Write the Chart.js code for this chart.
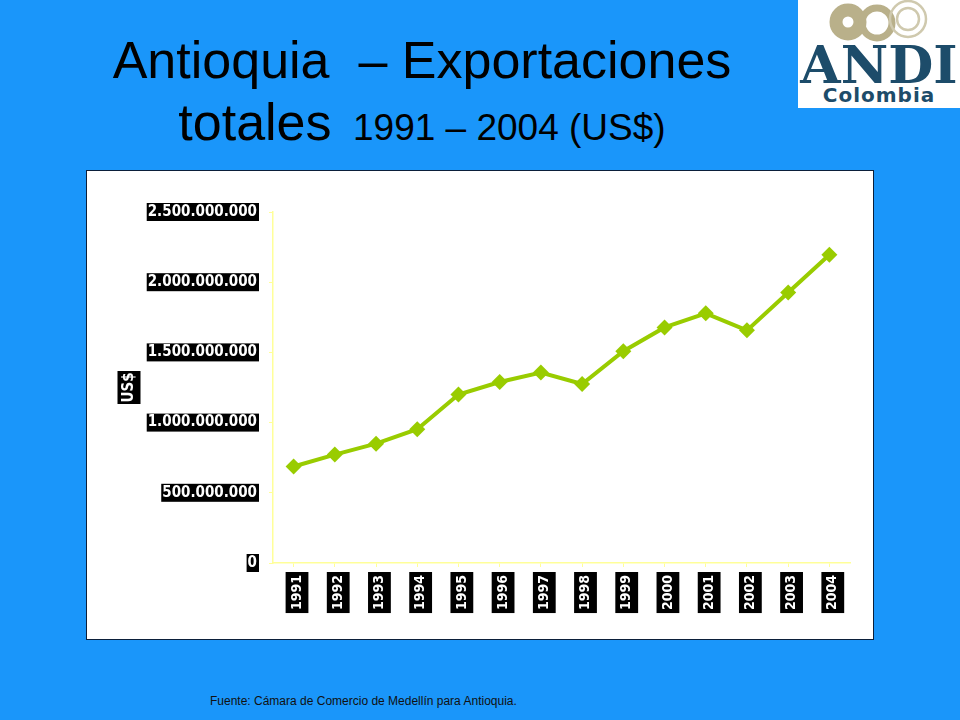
<!DOCTYPE html>
<html>
<head>
<meta charset="utf-8">
<script src="https://cdn.jsdelivr.net/npm/chart.js@4.4.1/dist/chart.umd.min.js"></script>
<style>
  html, body { margin: 0; padding: 0; }
  body {
    width: 960px; height: 720px; position: relative; overflow: hidden;
    background: #1a96fa; font-family: "Liberation Sans", Arial, sans-serif;
  }
  .title {
    position: absolute; left: 0; width: 844px; text-align: center;
    color: #000; font-size: 52px; line-height: 1; white-space: pre;
  }
  .title small { font-size: 37px; margin-left: 7px; }
  #t1 { top: 34px; }
  #t2 { top: 96px; }
  #logo {
    position: absolute; left: 798px; top: 0; width: 162px; height: 108px; background: #fff;
  }
  #logo .andi {
    position: absolute; left: 0; width: 162px; top: 39px; text-align: center; line-height: 1;
    font-family: "DejaVu Serif", serif; font-weight: bold; font-size: 52px;
    color: #1d4c6a;
  }
  #logo .col {
    position: absolute; left: 0; width: 162px; top: 85px; text-align: center; line-height: 1;
    font-family: "DejaVu Sans", sans-serif; font-weight: bold; font-size: 20px;
    color: #1d4c6a; letter-spacing: 1px;
  }
  #box {
    position: absolute; left: 86px; top: 170px; width: 786px; height: 468px;
    background: #fff; border: 1px solid #0b1f3a;
  }
  #chart { display: block; }
  #src {
    position: absolute; left: 210px; top: 694px; font-size: 12px; color: #111;
  }
</style>
</head>
<body>
<div class="title" id="t1">Antioquia  – Exportaciones</div>
<div class="title" id="t2">totales <small>1991 – 2004 (US$)</small></div>

<div id="logo">
  <svg width="162" height="48" style="position:absolute;left:0;top:0">
    <circle cx="50" cy="22" r="12" fill="none" stroke="#b9b08a" stroke-width="13"/>
    <circle cx="79" cy="23" r="15" fill="none" stroke="#b9b08a" stroke-width="7"/>
    <circle cx="110" cy="19" r="18" fill="none" stroke="#cfc9ae" stroke-width="2.5"/>
    <circle cx="110" cy="19" r="11" fill="none" stroke="#cfc9ae" stroke-width="2.5"/>
  </svg>
  <div class="andi">ANDI</div>
  <div class="col">Colombia</div>
</div>

<div id="box"><canvas id="chart" width="786" height="468"></canvas></div>
<div id="src">Fuente: Cámara de Comercio de Medellín para Antioquia.</div>

<script>
// Exportaciones totales de Antioquia (US$)
const years = ['1991', '1992', '1993', '1994', '1995', '1996', '1997',
               '1998', '1999', '2000', '2001', '2002', '2003', '2004'];
const exportsUsd = [687e6, 772e6, 850e6, 953e6, 1200e6, 1289e6, 1356e6,
                    1275e6, 1508e6, 1678e6, 1778e6, 1657e6, 1926e6, 2195e6];
const yMax = 2500000000;
const yStep = 500000000;

function formatDots(value) {
    return value.toString().replace(/\B(?=(\d{3})+(?!\d))/g, '.');
}

// caja negra detras del titulo del eje Y
const titleBackdrop = {
    id: 'titleBackdrop',
    beforeDraw(chart) {
        const y = chart.scales.y;
        const ctx = chart.ctx;
        const cx = y.left + 33 + 9;
        const cy = (chart.chartArea.top + chart.chartArea.bottom) / 2;
        ctx.save();
        ctx.fillStyle = '#000';
        ctx.fillRect(cx - 11.5, cy - 16.5, 23, 33);
        ctx.restore();
    }
};

let exportChart = null;

function initExportChart() {
    const ctx = document.getElementById('chart').getContext('2d');

    exportChart = new Chart(ctx, {
        type: 'line',
        data: {
            labels: years,
            datasets: [{
                data: exportsUsd,
                borderColor: '#99cc00',
                borderWidth: 4,
                backgroundColor: '#99cc00',
                pointStyle: 'rectRot',
                pointRadius: 8,
                pointHoverRadius: 8,
                pointBorderWidth: 0,
                tension: 0
            }]
        },
        options: {
            responsive: false,
            animation: false,
            layout: {
                padding: { top: 41, right: 23, left: 0, bottom: 0 }
            },
            plugins: {
                legend: { display: false },
                tooltip: { enabled: false }
            },
            scales: {
                x: {
                    offset: true,
                    afterFit: function(scale) { scale.height = 76; },
                    border: { color: '#ffff99', width: 1.5 },
                    grid: {
                        drawOnChartArea: false,
                        color: '#ffff99',
                        tickLength: 4
                    },
                    ticks: {
                        minRotation: 90,
                        maxRotation: 90,
                        padding: 8,
                        labelOffset: -5,
                        color: '#fff',
                        font: { family: 'DejaVu Sans Condensed', weight: 'bold', size: 14 },
                        showLabelBackdrop: true,
                        backdropColor: '#000',
                        backdropPadding: { left: 3, right: 3, top: 3, bottom: 3 }
                    }
                },
                y: {
                    min: 0,
                    max: yMax,
                    afterFit: function(scale) { scale.width = 186; },
                    border: { color: '#ffff99', width: 1.5 },
                    grid: {
                        drawOnChartArea: false,
                        color: '#ffff99',
                        tickLength: 4
                    },
                    title: {
                        display: true,
                        text: 'US$',
                        color: '#fff',
                        padding: { top: 33, bottom: 0 },
                        font: { family: 'DejaVu Sans Condensed', weight: 'bold', size: 15 }
                    },
                    ticks: {
                        stepSize: yStep,
                        padding: 12,
                        color: '#fff',
                        font: { family: 'DejaVu Sans Condensed', weight: 'bold', size: 15 },
                        showLabelBackdrop: true,
                        backdropColor: '#000',
                        backdropPadding: { left: 1, right: 2, top: 0, bottom: 0 },
                        callback: function(value) { return formatDots(value); }
                    }
                }
            }
        },
        plugins: [titleBackdrop]
    });
}

document.addEventListener('DOMContentLoaded', function() {
    initExportChart();
});
</script>
</body>
</html>
